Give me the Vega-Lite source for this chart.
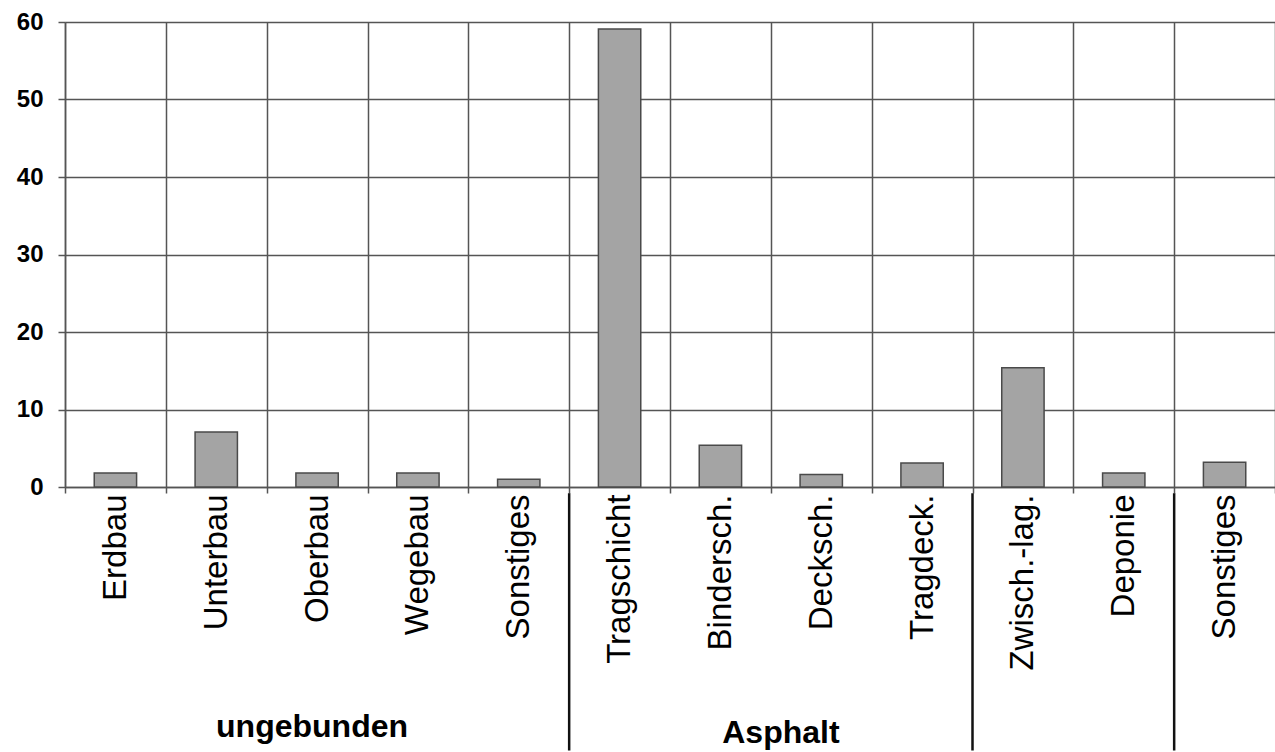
{
  "$schema": "https://vega.github.io/schema/vega-lite/v6.json",
  "autosize": "none",
  "width": 1210,
  "height": 465,
  "padding": {"left": 65, "top": 22, "right": 0, "bottom": 265},
  "background": "white",
  "config": {
    "view": {"stroke": null},
    "font": "Liberation Sans"
  },
  "datasets": {
    "bars": [
      {"key": "01|Erdbau", "value": 1.8},
      {"key": "02|Unterbau", "value": 7.1},
      {"key": "03|Oberbau", "value": 1.8},
      {"key": "04|Wegebau", "value": 1.8},
      {"key": "05|Sonstiges", "value": 1.0},
      {"key": "06|Tragschicht", "value": 59.1},
      {"key": "07|Bindersch.", "value": 5.4},
      {"key": "08|Decksch.", "value": 1.6},
      {"key": "09|Tragdeck.", "value": 3.1},
      {"key": "10|Zwisch.-lag.", "value": 15.4},
      {"key": "11|Deponie", "value": 1.8},
      {"key": "12|Sonstiges", "value": 3.2}
    ],
    "separators": [
      {"key": "06|Tragschicht"},
      {"key": "10|Zwisch.-lag."},
      {"key": "12|Sonstiges"}
    ]
  },
  "encoding": {
    "x": {
      "field": "key",
      "type": "nominal",
      "scale": {
        "domain": ["01|Erdbau", "02|Unterbau", "03|Oberbau", "04|Wegebau", "05|Sonstiges", "06|Tragschicht", "07|Bindersch.", "08|Decksch.", "09|Tragdeck.", "10|Zwisch.-lag.", "11|Deponie", "12|Sonstiges"],
        "paddingInner": 0,
        "paddingOuter": 0
      }
    }
  },
  "layer": [
    {
      "data": {"name": "bars"},
      "mark": {"type": "bar", "width": {"band": 0.42}, "fill": "#a4a4a4", "stroke": "#4a4a4a", "strokeWidth": 1.5},
      "encoding": {
        "x": {
          "field": "key",
          "type": "nominal",
          "axis": {
            "title": null,
            "labelExpr": "split(datum.label,'|')[1]",
            "labelAngle": -90,
            "labelFontSize": 33,
            "labelColor": "#000",
            "labelPadding": 1,
            "tickBand": "extent",
            "tickSize": 6,
            "tickColor": "#555",
            "tickWidth": 1.5,
            "grid": true,
            "gridColor": "#555",
            "gridWidth": 1.5,
            "domain": true,
            "domainColor": "#555",
            "domainWidth": 1.5,
            "labelLimit": 300
          }
        },
        "y": {
          "field": "value",
          "type": "quantitative",
          "scale": {"domain": [0, 60], "nice": false, "clamp": false},
          "axis": {
            "title": null,
            "values": [0, 10, 20, 30, 40, 50, 60],
            "labelFontSize": 24,
            "labelFontWeight": "bold",
            "labelColor": "#000",
            "labelPadding": 15,
            "tickSize": 7,
            "tickColor": "#555",
            "tickWidth": 1.5,
            "grid": true,
            "gridColor": "#555",
            "gridWidth": 1.5,
            "domain": true,
            "domainColor": "#555",
            "domainWidth": 1.5
          }
        }
      }
    },
    {
      "data": {"name": "separators"},
      "mark": {"type": "rule", "color": "#111", "strokeWidth": 2.5},
      "encoding": {
        "x": {"field": "key", "type": "nominal", "bandPosition": 0},
        "y": {"datum": -0.8, "type": "quantitative"},
        "y2": {"datum": -34}
      }
    },
    {
      "data": {"values": [
        {"group": "ungebunden", "anchor": "03|Oberbau"}
      ]},
      "mark": {"type": "text", "fontSize": 32, "fontWeight": "bold", "color": "#000", "align": "center", "baseline": "middle"},
      "encoding": {
        "x": {"field": "anchor", "type": "nominal", "bandPosition": 0.45},
        "y": {"datum": -31, "type": "quantitative"},
        "text": {"field": "group"}
      }
    },
    {
      "data": {"values": [
        {"group": "Asphalt", "anchor": "08|Decksch."}
      ]},
      "mark": {"type": "text", "fontSize": 32, "fontWeight": "bold", "color": "#000", "align": "center", "baseline": "middle"},
      "encoding": {
        "x": {"field": "anchor", "type": "nominal", "bandPosition": 0.1},
        "y": {"datum": -31.8, "type": "quantitative"},
        "text": {"field": "group"}
      }
    }
  ]
}
